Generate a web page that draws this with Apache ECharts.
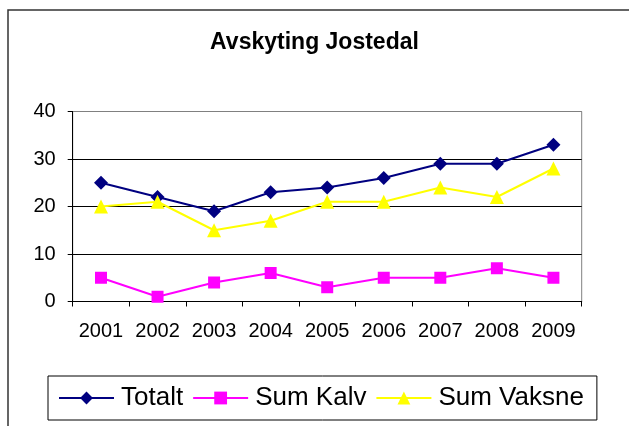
<!DOCTYPE html>
<html>
<head>
<meta charset="utf-8">
<script src="https://cdn.jsdelivr.net/npm/echarts@6/dist/echarts.min.js"></script>
<style>
html,body{margin:0;padding:0;background:#fff;}
#c{width:629px;height:426px;}
</style>
</head>
<body>
<div id="c"></div>
<script>
var categories = ['2001','2002','2003','2004','2005','2006','2007','2008','2009'];
var totalt = [25, 22, 19, 23, 24, 26, 29, 29, 33];
var sumKalv = [5, 1, 4, 6, 3, 5, 5, 7, 5];
var sumVaksne = [20, 21, 15, 17, 21, 21, 24, 22, 28];
var yTicks = [0, 10, 20, 30, 40];

var chart = echarts.init(document.getElementById('c'), null, {renderer:'canvas'});
var font = 'Liberation Sans, Arial, sans-serif';
chart.setOption({
  animation: false,
  backgroundColor: '#fff',
  title: {
    text: 'Avskyting Jostedal',
    left: 'center',
    top: 31,
    padding: 0,
    textStyle: {fontFamily: font, fontSize: 23, fontWeight: 'bold', color: '#000'}
  },
  graphic: [{
    type: 'rect',
    shape: {x: 8, y: 10, width: 700, height: 500},
    style: {fill: 'none', stroke: '#333', lineWidth: 1.5},
    silent: true
  }],
  grid: {
    left: 72.7, right: 47.3, top: 111.5, bottom: 124.5,
    show: true, borderColor: '#808080', borderWidth: 1, backgroundColor: 'transparent'
  },
  legend: {
    left: 48, top: 376,
    padding: [9, 13, 9, 10],
    borderColor: '#000', borderWidth: 1,
    itemWidth: 55, itemHeight: 16, itemGap: 9,
    textStyle: {fontFamily: font, fontSize: 26, color: '#000', padding: [0,0,0,2]},
    data: ['Totalt', 'Sum Kalv', 'Sum Vaksne']
  },
  xAxis: {
    type: 'category',
    data: categories,
    boundaryGap: true,
    axisLine: {lineStyle: {color: '#000', width: 1}},
    axisTick: {show: true, length: 5, lineStyle: {color: '#000'}},
    axisLabel: {fontFamily: font, fontSize: 20, color: '#000', margin: 20, interval: 0, hideOverlap: false},
    splitLine: {show: false}
  },
  yAxis: {
    type: 'value',
    min: yTicks[0], max: yTicks[yTicks.length-1], interval: 10,
    axisLine: {show: true, lineStyle: {color: '#000', width: 1}},
    axisTick: {show: true, length: 5, lineStyle: {color: '#000'}},
    axisLabel: {fontFamily: font, fontSize: 20, color: '#000', margin: 17},
    splitLine: {show: true, lineStyle: {color: ['#000','#000','#000','#000','#808080'], width: 1}}
  },
  series: [
    {
      name: 'Totalt', type: 'line', data: totalt,
      symbol: 'diamond', symbolSize: 14,
      lineStyle: {color: '#000080', width: 2},
      itemStyle: {color: '#000080'}
    },
    {
      name: 'Sum Kalv', type: 'line', data: sumKalv,
      symbol: 'rect', symbolSize: 12,
      lineStyle: {color: '#FF00FF', width: 2},
      itemStyle: {color: '#FF00FF'}
    },
    {
      name: 'Sum Vaksne', type: 'line', data: sumVaksne,
      symbol: 'triangle', symbolSize: 14,
      lineStyle: {color: '#FFFF00', width: 2},
      itemStyle: {color: '#FFFF00'}
    }
  ]
});
</script>
</body>
</html>
